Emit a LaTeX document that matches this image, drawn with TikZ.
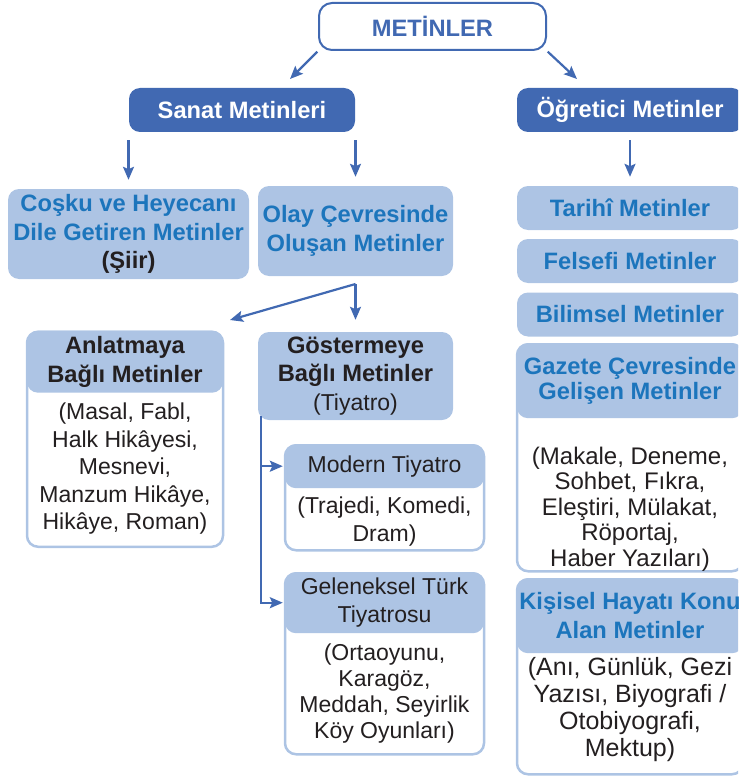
\documentclass[tikz,border=0pt]{standalone}
\usepackage{fontspec}
\setmainfont{Liberation Sans}
\usetikzlibrary{arrows.meta}
\definecolor{koyumavi}{RGB}{65,105,178}
\definecolor{acikmavi}{RGB}{173,196,228}
\definecolor{yazimavi}{RGB}{28,117,188}
\definecolor{yazisiyah}{RGB}{35,31,32}
\newcommand{\kalin}{\fontsize{23.7}{28.5}\selectfont\bfseries}
\newcommand{\duz}{\fontsize{23}{27.5}\selectfont\mdseries}
\newcommand{\sagduz}{\fontsize{24}{25.5}\selectfont\mdseries}
\begin{document}
\begin{tikzpicture}[x=1pt,y=-1pt,
    ok/.style={-{Stealth[length=13pt,width=11pt,inset=2.5pt]},draw=koyumavi,line width=2.2pt},
    anakutu/.style={draw=koyumavi,line width=2pt,fill=white,rounded corners=13pt,text=koyumavi,font=\kalin,inner sep=0pt},
    turkutu/.style={fill=koyumavi,rounded corners=11pt,text=white,font=\kalin,inner sep=0pt},
    altkutu/.style={fill=acikmavi,rounded corners=11pt,text=yazimavi,font=\kalin,align=center,inner sep=0pt},
    cerceve/.style={draw=acikmavi,line width=2.5pt,fill=white,rounded corners=11pt,inner sep=0pt},
    baslik/.style={fill=acikmavi,rounded corners=11pt,inner sep=0pt,align=center,text=yazisiyah},
    icyazi/.style={align=center,text=yazisiyah,font=\duz,inner sep=0pt}]
    \clip (0,0) rectangle (738,778);

    % Drawing box METINLER
    \node[anakutu, minimum width=227, minimum height=47] (metinler) at (432.5,26.5) {METİNLER};

    % Drawing the two kinds
    \node[turkutu, minimum width=226, minimum height=44] (sanat) at (242,110) {Sanat Metinleri};
    \node[turkutu, minimum width=226, minimum height=44] (ogretici) at (630,110) {Öğretici Metinler};
    \coordinate (solok) at (290,79);
    \coordinate (sagok) at (577,79);
    \draw[ok, shorten <=1pt] (metinler.south west) -- (solok);
    \draw[ok, shorten <=1pt] (metinler.south east) -- (sagok);

    % Drawing Sanat Metinleri branch
    \node[altkutu, minimum width=241, minimum height=90] (cosku) at (128.5,234) {Coşku ve Heyecanı\\Dile Getiren Metinler\\\textcolor{yazisiyah}{(Şiir)}};
    \node[altkutu, minimum width=195, minimum height=90] (olay) at (355.5,231) {Olay Çevresinde\\Oluşan Metinler};
    \draw[ok, shorten <=8pt, shorten >=9pt] (sanat.south -| cosku.north) -- (cosku.north);
    \draw[ok, shorten <=8pt, shorten >=9pt] (sanat.south -| olay.north) -- (olay.north);

    % Drawing Anlatmaya box
    \node[cerceve, minimum width=196, minimum height=215, anchor=north] (anlat) at (125,330.5) {};
    \node[baslik, font=\kalin, minimum width=196, minimum height=62, anchor=north] (anlatb) at (125,330.5) {Anlatmaya\\Bağlı Metinler};
    \node[icyazi] (anlati) at (125,469) {(Masal, Fabl,\\Halk Hikâyesi,\\Mesnevi,\\Manzum Hikâye,\\Hikâye, Roman)};

    % Drawing Gostermeye box
    \node[altkutu, text=yazisiyah, minimum width=195, minimum height=88] (gost) at (355.5,376) {Göstermeye\\Bağlı Metinler\\{\duz (Tiyatro)}};

    % Drawing fork below Olay
    \coordinate (catal) at (355.5,284);
    \coordinate (anlatok) at (230,320);
    \draw[ok] (catal) -- (anlatok);
    \draw[ok, shorten >=12pt] (catal) -- (catal |- gost.north);

    % Drawing Modern Tiyatro box
    \node[cerceve, minimum width=199, minimum height=105, anchor=north] (modern) at (384.5,444) {};
    \node[baslik, font=\duz, minimum width=199, minimum height=44, anchor=north] (modernb) at (384.5,444) {Modern Tiyatro};
    \node[icyazi] (moderni) at (384.5,521.5) {(Trajedi, Komedi,\\Dram)};

    % Drawing Geleneksel box
    \node[cerceve, minimum width=199, minimum height=181, anchor=north] (gelen) at (384.5,572) {};
    \node[baslik, font=\duz, minimum width=199, minimum height=61, anchor=north] (gelenb) at (384.5,572) {Geleneksel Türk\\Tiyatrosu};
    \node[icyazi, font=\fontsize{23}{26}\selectfont] (geleni) at (384.5,694) {(Ortaoyunu,\\Karagöz,\\Meddah, Seyirlik\\Köy Oyunları)};

    % Drawing Tiyatro connectors
    \coordinate (gostdip) at (261,416);
    \draw[ok, shorten >=2pt] (gostdip) |- (modernb.west);
    \draw[ok, shorten >=2pt] (gostdip) |- (gelenb.west);

    % Drawing Ogretici Metinler branch
    \node[altkutu, minimum width=226, minimum height=44] (tarihi) at (630,208) {Tarihî Metinler};
    \node[altkutu, minimum width=226, minimum height=44] (felsefi) at (630,261) {Felsefi Metinler};
    \node[altkutu, minimum width=226, minimum height=44] (bilimsel) at (630,314.5) {Bilimsel Metinler};
    \draw[ok, shorten <=8pt, shorten >=9pt] (ogretici.south) -- (tarihi.north);

    % Drawing Gazete box
    \node[cerceve, minimum width=226, minimum height=227, anchor=north] (gazete) at (630,343) {};
    \node[baslik, text=yazimavi, font=\fontsize{23.7}{25}\selectfont\bfseries, minimum width=226, minimum height=75, anchor=north] (gazeteb) at (630,343) {Gazete Çevresinde\\Gelişen Metinler};
    \node[icyazi, font=\sagduz] (gazetei) at (630,509) {(Makale, Deneme,\\Sohbet, Fıkra,\\Eleştiri, Mülakat,\\Röportaj,\\Haber Yazıları)};

    % Drawing Kisisel box
    \node[cerceve, minimum width=226, minimum height=195, anchor=north] (kisisel) at (630,578) {};
    \node[baslik, text=yazimavi, font=\kalin, minimum width=226, minimum height=75, anchor=north] (kisiselb) at (630,578) {Kişisel Hayatı Konu\\Alan Metinler};
    \node[icyazi, font=\fontsize{25}{27}\selectfont] (kisiseli) at (630,710) {(Anı, Günlük, Gezi\\Yazısı, Biyografi /\\Otobiyografi,\\Mektup)};
\end{tikzpicture}
\end{document}
